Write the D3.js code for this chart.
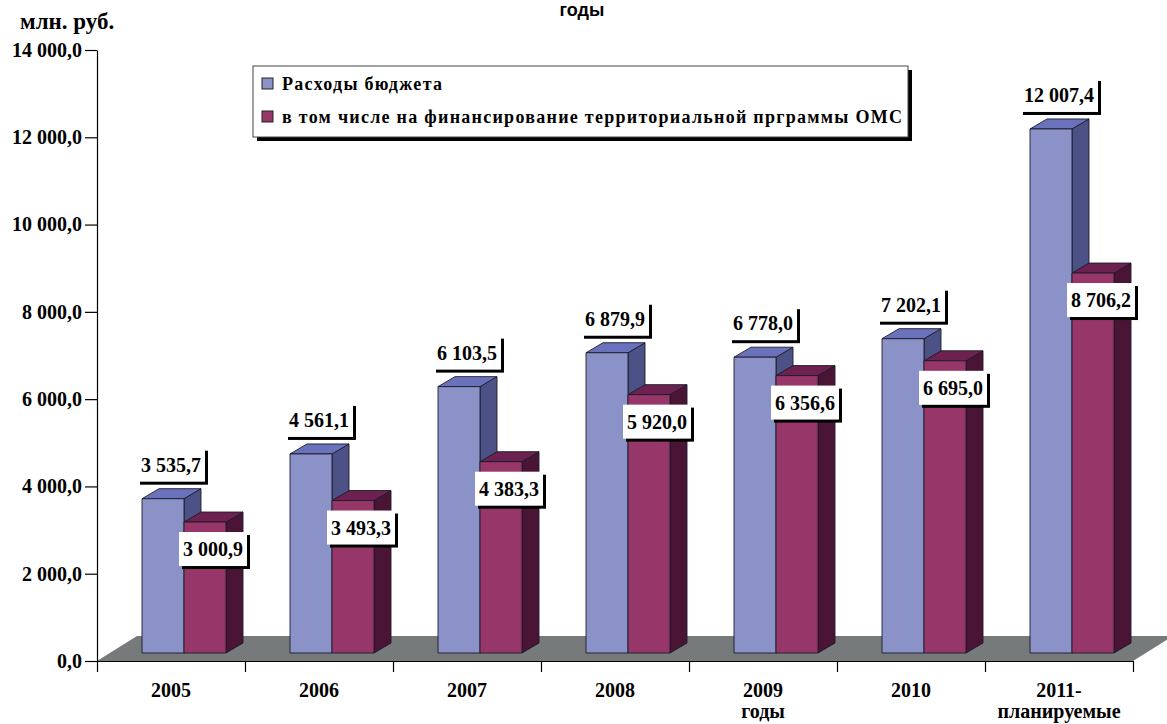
<!DOCTYPE html>
<html lang="ru">
<head>
<meta charset="utf-8">
<script src="https://cdn.jsdelivr.net/npm/d3@7"></script>
<style>
  html, body { margin: 0; padding: 0; background: #fff; }
  svg { display: block; }
  .serif { font-family: "Liberation Serif", "Times New Roman", serif; font-weight: bold; }
</style>
</head>
<body>
<svg id="chart" width="1167" height="724"></svg>
<script>
// Budget spending and the part of it going to the territorial OMS programme, mln RUB
const categories = ["2005", "2006", "2007", "2008", "2009 годы", "2010", "2011- планируемые"];
const budget = [3535.7, 4561.1, 6103.5, 6879.9, 6778.0, 7202.1, 12007.4];
const oms = [3000.9, 3493.3, 4383.3, 5920.0, 6356.6, 6695.0, 8706.2];
const yTicks = [0, 2000, 4000, 6000, 8000, 10000, 12000, 14000];
const seriesNames = [
  "Расходы бюджета",
  "в том числе на финансирование территориальной прграммы ОМС"
];
const unitLabel = "млн. руб.";
const titleText = "годы";

const svg = d3.select("#chart");

const ru = d3.formatLocale({ decimal: ",", thousands: " ", grouping: [3], currency: ["", ""] });
const fmt = ru.format(",.1f");

// layout
const plotLeft = 97, plotRight = 1133, baseY = 661, topY = 50;
const floorDepth = [40, -25];     // depth vector of the floor
const barFront = [13, -8];        // front plane of the columns inside the floor
const barDepth = [17, -10];       // visible depth of each column
const barW = 42;

const colors = {
  blue: { front: "#8a92c8", top: "#6a72bb", side: "#4c5285" },
  red:  { front: "#973769", top: "#6d2150", side: "#4a1434" }
};

const x = d3.scaleBand().domain(categories).range([plotLeft, plotRight]).padding(0);
const y = d3.scaleLinear().domain([0, 14000]).range([baseY, topY]);
const xs = d3.scaleBand().domain([0, 1]).range([-barW, barW]).padding(0);

// floor
svg.append("polygon")
  .attr("points", [
    [plotLeft, baseY],
    [plotLeft + floorDepth[0], baseY + floorDepth[1]],
    [plotRight + floorDepth[0], baseY + floorDepth[1]],
    [plotRight, baseY]
  ].map(p => p.join(",")).join(" "))
  .attr("fill", "#767a7a");

// 3D column
function column(g, cx, v, c) {
  const x0 = cx, x1 = cx + barW;
  const yb = y(0) + barFront[1];
  const yt = y(v) + barFront[1];
  const [dx, dy] = barDepth;
  const st = { stroke: "#1b1b2a", "stroke-width": 0.9, "stroke-linejoin": "round" };
  const poly = (pts, fill) => {
    const p = g.append("polygon").attr("points", pts.map(q => q.join(",")).join(" ")).attr("fill", fill);
    Object.entries(st).forEach(([k, val]) => p.attr(k, val));
  };
  poly([[x1, yt], [x1 + dx, yt + dy], [x1 + dx, yb + dy], [x1, yb]], c.side);
  poly([[x0, yt], [x0 + dx, yt + dy], [x1 + dx, yt + dy], [x1, yt]], c.top);
  poly([[x0, yt], [x1, yt], [x1, yb], [x0, yb]], c.front);
}

const bars = svg.append("g");
categories.forEach((cat, i) => {
  const center = x(cat) + x.bandwidth() / 2 + barFront[0];
  column(bars, center + xs(0), budget[i], colors.blue);
  column(bars, center + xs(1), oms[i], colors.red);
});

// axes
const yAxis = svg.append("g")
  .attr("transform", `translate(${plotLeft},0)`)
  .call(d3.axisLeft(y).tickValues(yTicks).tickSize(12).tickSizeOuter(0).tickPadding(3).tickFormat(fmt));
yAxis.selectAll("text").attr("class", "serif").attr("font-size", 20).attr("fill", "#000");
yAxis.selectAll("line, path").attr("stroke", "#000").attr("stroke-width", 1.2);

const xb = d3.scaleLinear().domain([0, categories.length]).range([plotLeft, plotRight]);
const xAxis = svg.append("g")
  .attr("transform", `translate(0,${baseY})`)
  .call(d3.axisBottom(xb).tickValues(d3.range(categories.length + 1)).tickSize(11).tickSizeOuter(0).tickFormat(""));
xAxis.selectAll("line, path").attr("stroke", "#000").attr("stroke-width", 1.2);

// category labels (second line sits at the bottom edge)
const catLabels = svg.append("g").attr("class", "serif").attr("font-size", 20).attr("text-anchor", "middle");
categories.forEach(cat => {
  const lines = cat.split(" ");
  const t = catLabels.append("text")
    .attr("x", x(cat) + x.bandwidth() / 2)
    .attr("y", 697);
  lines.forEach((ln, k) => {
    t.append("tspan").attr("x", x(cat) + x.bandwidth() / 2).attr("dy", k === 0 ? 0 : 21).text(ln);
  });
});

// value labels with shadowed boxes
function valueLabel(cx, cy, v) {
  const g = svg.append("g");
  const t = g.append("text")
    .attr("class", "serif")
    .attr("font-size", 20)
    .attr("text-anchor", "middle")
    .attr("dominant-baseline", "central")
    .attr("x", cx).attr("y", cy)
    .text(fmt(v));
  const w = t.node().getComputedTextLength() + 8;
  const h = 34;
  g.insert("rect", "text").attr("x", cx - w / 2 + 3).attr("y", cy - h / 2 + 3).attr("width", w).attr("height", h).attr("fill", "#000");
  g.insert("rect", "text").attr("x", cx - w / 2).attr("y", cy - h / 2).attr("width", w).attr("height", h).attr("fill", "#fff");
}

categories.forEach((cat, i) => {
  const center = x(cat) + x.bandwidth() / 2 + barFront[0];
  const bx = center + xs(0) + barW / 2 + 8;
  const byTop = y(budget[i]) + barFront[1] + barDepth[1];
  valueLabel(bx, byTop - 7 - 17, budget[i]);
  const rx = center + xs(1) + barW / 2 + 8;
  const ryTop = y(oms[i]) + barFront[1];
  valueLabel(rx, ryTop + 27, oms[i]);
});

// legend
const lg = svg.append("g");
lg.append("rect").attr("x", 257).attr("y", 70).attr("width", 655).attr("height", 71).attr("fill", "#000");
lg.append("rect").attr("x", 253).attr("y", 66).attr("width", 655).attr("height", 71)
  .attr("fill", "#fff").attr("stroke", "#444").attr("stroke-width", 1);
const legendColors = [colors.blue.front, colors.red.front];
const legendTextLen = [160, 620];
seriesNames.forEach((name, k) => {
  const cy = 84 + k * 33;
  lg.append("rect").attr("x", 262).attr("y", cy - 6).attr("width", 11).attr("height", 11)
    .attr("fill", legendColors[k]).attr("stroke", "#222").attr("stroke-width", 1);
  lg.append("text").attr("class", "serif").attr("font-size", 18)
    .attr("x", 282).attr("y", cy).attr("dominant-baseline", "central")
    .attr("textLength", legendTextLen[k]).attr("lengthAdjust", "spacing")
    .text(name);
});

// unit and title
svg.append("text").attr("class", "serif").attr("font-size", 23)
  .attr("x", 20).attr("y", 29).text(unitLabel);
svg.append("text").attr("font-family", "'Liberation Sans', Arial, sans-serif").attr("font-weight", "bold")
  .attr("font-size", 18).attr("text-anchor", "middle").attr("x", 582).attr("y", 16).text(titleText);
</script>
</body>
</html>
